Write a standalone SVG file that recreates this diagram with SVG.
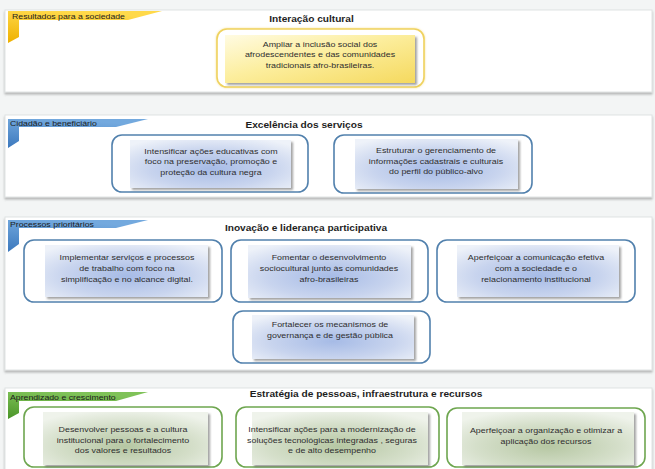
<svg xmlns="http://www.w3.org/2000/svg" width="655" height="469" viewBox="0 0 655 469">
<defs>
<filter id="pshadow" x="-5%" y="-20%" width="110%" height="140%"><feDropShadow dx="0" dy="2" stdDeviation="1.3" flood-color="#666" flood-opacity="0.45"/></filter>
<filter id="ishadow" x="-10%" y="-10%" width="125%" height="130%"><feDropShadow dx="2" dy="2" stdDeviation="1.2" flood-color="#555" flood-opacity="0.55"/></filter>
<filter id="glow" x="-10%" y="-20%" width="120%" height="140%"><feDropShadow dx="0" dy="0" stdDeviation="1" flood-color="#f3d46a" flood-opacity="0.7"/></filter>
<linearGradient id="gY" x1="0" y1="0" x2="1" y2="1"><stop offset="0" stop-color="#fffbe2"/><stop offset="0.45" stop-color="#fcee9e"/><stop offset="1" stop-color="#f5d95e"/></linearGradient>
<radialGradient id="gB" cx="0.5" cy="0.6" r="0.7"><stop offset="0" stop-color="#a6bbe6"/><stop offset="0.55" stop-color="#c8d4ee"/><stop offset="1" stop-color="#eef2f9"/></radialGradient>
<radialGradient id="gG" cx="0.5" cy="0.65" r="0.7"><stop offset="0" stop-color="#b6c7a3"/><stop offset="0.6" stop-color="#d5dfca"/><stop offset="1" stop-color="#eff3eb"/></radialGradient>
<linearGradient id="tY" x1="0" y1="1" x2="0.3" y2="0"><stop offset="0" stop-color="#eeb000"/><stop offset="1" stop-color="#ffd94a"/></linearGradient>
<linearGradient id="tB" x1="0" y1="1" x2="0.3" y2="0"><stop offset="0" stop-color="#3b78bd"/><stop offset="1" stop-color="#73a9de"/></linearGradient>
<linearGradient id="tG" x1="0" y1="1" x2="0.3" y2="0"><stop offset="0" stop-color="#4a9428"/><stop offset="1" stop-color="#7fc258"/></linearGradient>
</defs>
<style>
.panel{fill:#ffffff;stroke:#dfe3e3;stroke-width:1;filter:url(#pshadow)}
.oy{fill:#fff;stroke:#efd25e;stroke-width:1.6;filter:url(#glow)}
.ob{fill:#fff;stroke:#5281ad;stroke-width:1.6}
.og{fill:#fff;stroke:#6ea64f;stroke-width:1.6}
.iy{fill:url(#gY);filter:url(#ishadow)}
.ib{fill:url(#gB);filter:url(#ishadow)}
.ig{fill:url(#gG);filter:url(#ishadow)}
.t{font-family:"Liberation Sans",Arial,sans-serif;font-size:7.8px;fill:#2e2e2e;text-anchor:middle}
.h{font-family:"Liberation Sans",Arial,sans-serif;font-size:8.9px;font-weight:bold;fill:#1e1e1e;text-anchor:middle}
.tab{font-family:"Liberation Sans",Arial,sans-serif;font-size:7.6px;fill:#1c1c1c}
</style>
<rect x="0" y="0" width="655" height="469" fill="#f3f5f5"/>
<g id="bands">
<rect class="panel" x="5" y="10" width="647" height="82"/>
<rect class="panel" x="5" y="115" width="647" height="82"/>
<rect class="panel" x="5" y="217" width="647" height="153"/>
<rect class="panel" x="5" y="388" width="647" height="95"/>
<path d="M8,11 H162 L128,20 H19 V37 L8,43 Z" fill="url(#tY)"/>
<path d="M8,119 H148 L116,127 H19 V141 L8,148 Z" fill="url(#tB)"/>
<path d="M8,220 H148 L116,228 H19 V244 L8,252 Z" fill="url(#tB)"/>
<path d="M8,392 H148 L116,401 H19 V413 L8,419 Z" fill="url(#tG)"/>
<text class="tab" transform="translate(12 0) scale(1.15 1)" x="0" y="19">Resultados para a sociedade</text>
<text class="tab" transform="translate(10 0) scale(1.15 1)" x="0" y="126">Cidadão e beneficiário</text>
<text class="tab" transform="translate(10 0) scale(1.15 1)" x="0" y="227">Processos prioritários</text>
<text class="tab" transform="translate(10 0) scale(1.15 1)" x="0" y="400">Aprendizado e crescimento</text>
<text class="h" transform="translate(311.5 0) scale(1.14 1)" x="0" y="22">Interação cultural</text>
<text class="h" transform="translate(304 0) scale(1.14 1)" x="0" y="128">Excelência dos serviços</text>
<text class="h" transform="translate(306 0) scale(1.14 1)" x="0" y="231">Inovação e liderança participativa</text>
<text class="h" transform="translate(366 0) scale(1.14 1)" x="0" y="397">Estratégia de pessoas, infraestrutura e recursos</text>
</g>
<g id="connectors"/>
<g id="node-inclusao">
<rect class="oy" x="217" y="29" width="207" height="58" rx="10"/>
<rect class="iy" x="225" y="35" width="190" height="48"/>
<text class="t" transform="translate(320 0) scale(1.14 1)"><tspan x="0" y="47">Ampliar a inclusão social dos</tspan><tspan x="0" y="57.5">afrodescendentes e das comunidades</tspan><tspan x="0" y="68">tradicionais afro-brasileiras.</tspan></text>
</g>
<g id="node-acoes-educativas">
<rect class="ob" x="112" y="135" width="196" height="57" rx="10"/>
<rect class="ib" x="130" y="140" width="161" height="48"/>
<text class="t" transform="translate(211 0) scale(1.14 1)"><tspan x="0" y="154">Intensificar ações educativas com</tspan><tspan x="0" y="164.5">foco na preservação, promoção e</tspan><tspan x="0" y="175">proteção da cultura negra</tspan></text>
</g>
<g id="node-gerenciamento">
<rect class="ob" x="334" y="135" width="198" height="58" rx="10"/>
<rect class="ib" x="355" y="139" width="163" height="50"/>
<text class="t" transform="translate(436 0) scale(1.14 1)"><tspan x="0" y="153.5">Estruturar o gerenciamento de</tspan><tspan x="0" y="164">informações cadastrais e culturais</tspan><tspan x="0" y="174.5">do perfil do público-alvo</tspan></text>
</g>
<g id="node-servicos">
<rect class="ob" x="24" y="240" width="198" height="62" rx="10"/>
<rect class="ib" x="45" y="245" width="163" height="52"/>
<text class="t" transform="translate(127 0) scale(1.14 1)"><tspan x="0" y="260">Implementar serviços e processos</tspan><tspan x="0" y="271">de trabalho com foco na</tspan><tspan x="0" y="282">simplificação e no alcance digital.</tspan></text>
</g>
<g id="node-fomentar">
<rect class="ob" x="231" y="240" width="197" height="62" rx="10"/>
<rect class="ib" x="248" y="245" width="163" height="53"/>
<text class="t" transform="translate(329 0) scale(1.14 1)"><tspan x="0" y="260">Fomentar o desenvolvimento</tspan><tspan x="0" y="271">sociocultural junto às comunidades</tspan><tspan x="0" y="282">afro-brasileiras</tspan></text>
</g>
<g id="node-comunicacao">
<rect class="ob" x="437" y="240" width="198" height="62" rx="10"/>
<rect class="ib" x="457" y="245" width="162" height="52"/>
<text class="t" transform="translate(536 0) scale(1.14 1)"><tspan x="0" y="260">Aperfeiçoar a comunicação efetiva</tspan><tspan x="0" y="271">com a sociedade e o</tspan><tspan x="0" y="282">relacionamento institucional</tspan></text>
</g>
<g id="node-governanca">
<rect class="ob" x="233" y="311" width="197" height="52" rx="10"/>
<rect class="ib" x="252" y="315" width="162" height="44"/>
<text class="t" transform="translate(330 0) scale(1.14 1)"><tspan x="0" y="327">Fortalecer os mecanismos de</tspan><tspan x="0" y="338">governança e de gestão pública</tspan></text>
</g>
<g id="node-pessoas">
<rect class="og" x="24" y="407" width="198" height="60" rx="10"/>
<rect class="ig" x="43" y="412" width="165" height="53"/>
<text class="t" transform="translate(123 0) scale(1.14 1)"><tspan x="0" y="432.5">Desenvolver pessoas e a cultura</tspan><tspan x="0" y="443">institucional para o fortalecimento</tspan><tspan x="0" y="453.5">dos valores e resultados</tspan></text>
</g>
<g id="node-tecnologia">
<rect class="og" x="236" y="407" width="203" height="60" rx="10"/>
<rect class="ig" x="252" y="412" width="176" height="53"/>
<text class="t" transform="translate(332 0) scale(1.14 1)"><tspan x="0" y="432.5">Intensificar ações para a modernização de</tspan><tspan x="0" y="443">soluções tecnológicas integradas , seguras</tspan><tspan x="0" y="453.5">e de alto desempenho</tspan></text>
</g>
<g id="node-recursos">
<rect class="og" x="447" y="408" width="198" height="59" rx="10"/>
<rect class="ig" x="462" y="412" width="172" height="53"/>
<text class="t" transform="translate(546 0) scale(1.14 1)"><tspan x="0" y="433">Aperfeiçoar a organização e otimizar a</tspan><tspan x="0" y="444">aplicação dos recursos</tspan></text>
</g>
</svg>
